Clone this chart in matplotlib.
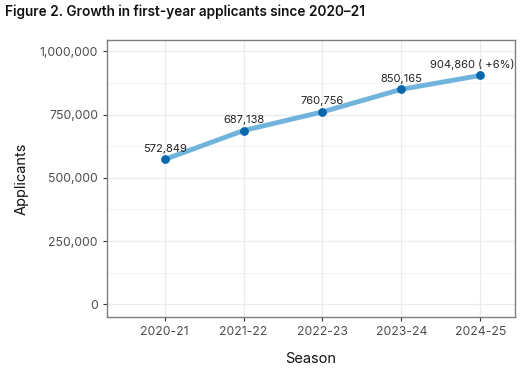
import matplotlib
matplotlib.use('Agg')
import matplotlib.pyplot as plt
from matplotlib.ticker import FuncFormatter, MultipleLocator

SEASONS = ['2020-21', '2021-22', '2022-23', '2023-24', '2024-25']
APPLICANTS = [572849, 687138, 760756, 850165, 904860]
LABELS = ['572,849', '687,138', '760,756', '850,165', '904,860 ( +6%)']
Y_TICKS = [0, 250000, 500000, 750000, 1000000]

plt.rcParams['font.family'] = ['Inter', 'DejaVu Sans']

fig = plt.figure(figsize=(5.24, 3.75), dpi=100)
ax = fig.add_axes([107 / 524, 1 - 317 / 375, 408 / 524, 277 / 375])

x = list(range(len(SEASONS)))
ax.plot(x, APPLICANTS, color='#70b4dc', lw=3.5, solid_capstyle='round', zorder=3)
ax.scatter(x, APPLICANTS, s=28, color='#0868ac', zorder=4)

for i, (xi, yi, lab) in enumerate(zip(x, APPLICANTS, LABELS)):
    dx = -6 if i == len(x) - 1 else 0
    ax.annotate(lab, (xi, yi), xytext=(dx, 4), textcoords='offset points',
                ha='center', va='bottom', fontsize=8, color='#222222')

ax.set_xlim(-0.73, 4.44)
ax.set_ylim(-50000, 1045000)
ax.set_xticks(x)
ax.set_xticklabels(SEASONS)
ax.set_yticks(Y_TICKS)
ax.yaxis.set_minor_locator(MultipleLocator(125000))
ax.yaxis.set_major_formatter(FuncFormatter(lambda v, p: f'{int(v):,}'))

ax.grid(which='major', color='#ebebeb', lw=0.9)
ax.grid(which='minor', axis='y', color='#f2f2f2', lw=0.6)
ax.set_axisbelow(True)
ax.tick_params(which='minor', length=0)
ax.tick_params(which='major', length=3, color='#333333', labelcolor='#4d4d4d',
               labelsize=8.8)
for sp in ax.spines.values():
    sp.set_color('#7f7f7f')
    sp.set_linewidth(1.0)

ax.set_xlabel('Season', fontsize=10.5, color='#111111', labelpad=10)
ax.set_ylabel('Applicants', fontsize=10.5, color='#111111', labelpad=8)

fig.text(5 / 524, 1 - 12 / 375, 'Figure 2. Growth in first-year applicants since 2020\u201321',
         fontsize=9.8, fontweight='semibold', va='center', ha='left', color='#111111')

fig.savefig('out.png', dpi=100)
